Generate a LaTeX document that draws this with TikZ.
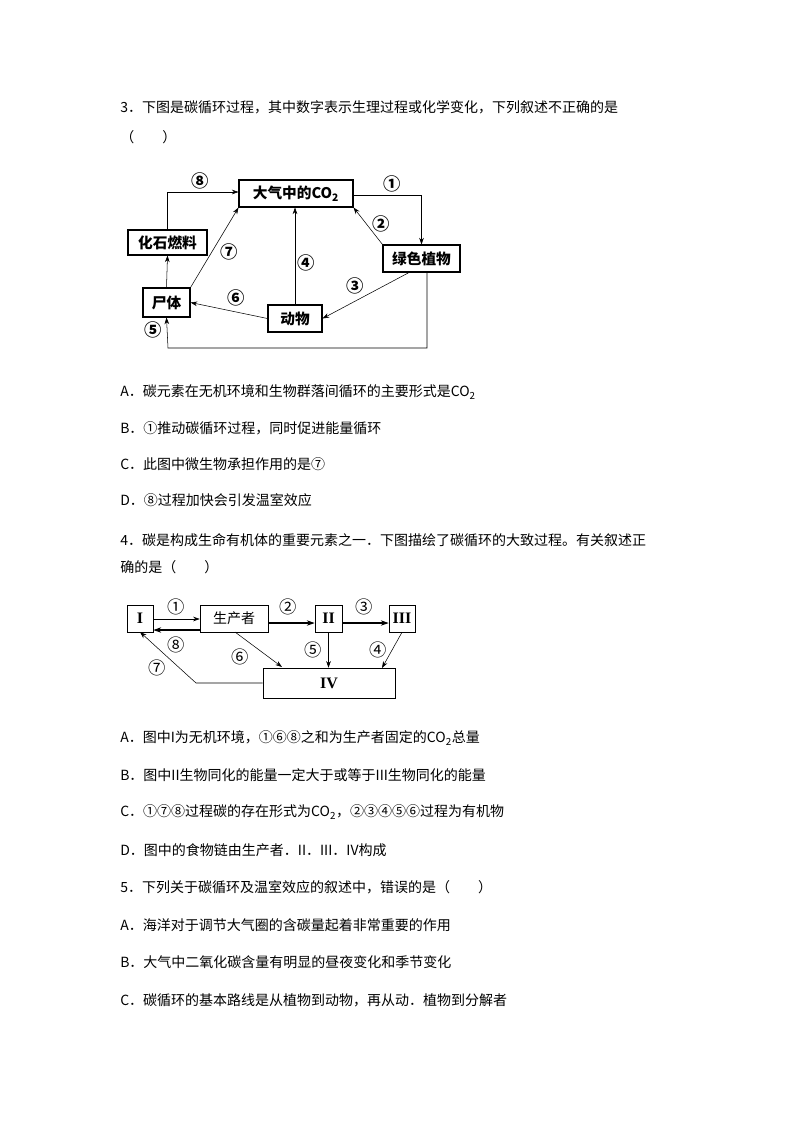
\documentclass[tikz,border=0pt]{standalone}
\usepackage{fontspec}
\setmainfont{Noto Sans CJK SC}
\newfontfamily\rmn{Liberation Serif}
\usetikzlibrary{arrows.meta}
\begin{document}
\begin{tikzpicture}[x=0.75pt,y=-0.75pt,
  line/.style={anchor=west,font=\fontsize{10.5pt}{12pt}\selectfont,inner sep=0},
  bx/.style={draw,thick,font=\bfseries\fontsize{11pt}{12pt}\selectfont,inner sep=0},
  bx2/.style={draw,thick,font=\fontsize{11pt}{12pt}\selectfont,inner sep=0},
  ar/.style={-{Stealth[length=5pt,width=3.5pt]},thin},
  ar2/.style={-{Stealth[length=6pt,width=4pt]},thick},
  lb/.style={font=\bfseries\fontsize{13pt}{14pt}\selectfont,inner sep=0}]
\useasboundingbox (0,0) rectangle (794,1123);
\node[line] (q3) at (120,107) {3．下图是碳循环过程，其中数字表示生理过程或化学变化，下列叙述不正确的是};
\node[line] (q3b) at (120,137) {（　　）};
% diagram 1
\node[bx,minimum width=114*0.75pt,minimum height=27*0.75pt] (co2) at (296,193.5) {大气中的CO\textsubscript{2}};
\node[bx,minimum width=79*0.75pt,minimum height=25*0.75pt] (fos) at (167.5,242.5) {化石燃料};
\node[bx,minimum width=77*0.75pt,minimum height=27*0.75pt] (pl) at (421.5,258.5) {绿色植物};
\node[bx,minimum width=47*0.75pt,minimum height=29*0.75pt] (cor) at (166.5,302.5) {尸体};
\node[bx,minimum width=54*0.75pt,minimum height=27*0.75pt] (an) at (295,318.5) {动物};
\draw[ar] (fos.north) |- (co2.west|-0,192);
\draw[ar] (co2.east|-0,195) -| (pl.north);
\draw[ar] (pl.north west) -- (co2.south east);
\draw[ar] (cor.north east) -- (co2.south west);
\draw[ar] (cor.north) -- (fos.south);
\draw[ar] (an.north) -- (an.north|-co2.south);
\draw[ar] (410,272) -- (an.east);
\draw[ar] (an.west) -- (cor.east);
\draw[ar] (427,272) -- (427,348) -- (168,348) -- (cor.south);
\node[lb] at (200,181) {⑧};
\node[lb] at (392,184) {①};
\node[lb] at (381,224) {②};
\node[lb] at (229,252) {⑦};
\node[lb] at (306,263) {④};
\node[lb] at (355,286) {③};
\node[lb] at (236,298) {⑥};
\node[lb] at (153,330) {⑤};
\node[line] at (120,392) {A．碳元素在无机环境和生物群落间循环的主要形式是CO\textsubscript{2}};
\node[line] at (120,428) {B．①推动碳循环过程，同时促进能量循环};
\node[line] at (120,464) {C．此图中微生物承担作用的是⑦};
\node[line] at (120,500) {D．⑧过程加快会引发温室效应};
\node[line] at (120,540) {4．碳是构成生命有机体的重要元素之一．下图描绘了碳循环的大致过程。有关叙述正};
\node[line] at (120,567) {确的是（　　）};
% diagram 2
\tikzset{lb/.style={font=\fontsize{13pt}{14pt}\selectfont,inner sep=0}}
\node[draw,thin,minimum width=26*0.75pt,minimum height=27*0.75pt,font=\rmn\bfseries\fontsize{12pt}{12pt}\selectfont,inner sep=0] (i) at (140,618.5) {I};
\node[bx2,thin,minimum width=68*0.75pt,minimum height=27*0.75pt,font=\fontsize{10.5pt}{12pt}\selectfont] (pr) at (234,618.5) {生产者};
\node[draw,thin,minimum width=27*0.75pt,minimum height=27*0.75pt,font=\rmn\bfseries\fontsize{12pt}{12pt}\selectfont,inner sep=0] (ii) at (328.5,618.5) {II};
\node[draw,thin,minimum width=26*0.75pt,minimum height=27*0.75pt,font=\rmn\bfseries\fontsize{12pt}{12pt}\selectfont,inner sep=0] (iii) at (402,618.5) {III};
\node[draw,thin,minimum width=132*0.75pt,minimum height=30*0.75pt,font=\rmn\bfseries\fontsize{12pt}{12pt}\selectfont,inner sep=0] (iv) at (329,683) {IV};
\draw[ar] (i.east|-0,619) -- (pr.west|-0,619);
\draw[ar2] (pr.west|-0,630) -- (i.east|-0,630);
\draw[ar2] (pr.east|-0,623) -- (ii.west|-0,623);
\draw[ar2] (ii.east|-0,623) -- (iii.west|-0,623);
\draw[ar] (ii.south) -- (ii.south|-iv.north);
\draw[ar] (iii.south) -- (382,668);
\draw[ar] (235,632) -- (282,667);
\draw[ar] (iv.west) -- (196,683) -- (140,632);
\node[lb] at (176,607) {①};
\node[lb] at (176,645) {⑧};
\node[lb] at (288,607) {②};
\node[lb] at (364,607) {③};
\node[lb] at (313,650) {⑤};
\node[lb] at (378,650) {④};
\node[lb] at (240,657) {⑥};
\node[lb] at (157,668) {⑦};
\node[line] at (120,738) {A．图中I为无机环境，①⑥⑧之和为生产者固定的CO\textsubscript{2}总量};
\node[line] at (120,775) {B．图中II生物同化的能量一定大于或等于III生物同化的能量};
\node[line] at (120,812) {C．①⑦⑧过程碳的存在形式为CO\textsubscript{2}，②③④⑤⑥过程为有机物};
\node[line] at (120,850) {D．图中的食物链由生产者．II．III．IV构成};
\node[line] at (120,887) {5．下列关于碳循环及温室效应的叙述中，错误的是（　　）};
\node[line] at (120,925) {A．海洋对于调节大气圈的含碳量起着非常重要的作用};
\node[line] at (120,962) {B．大气中二氧化碳含量有明显的昼夜变化和季节变化};
\node[line] at (120,1000) {C．碳循环的基本路线是从植物到动物，再从动．植物到分解者};
\end{tikzpicture}
\end{document}
